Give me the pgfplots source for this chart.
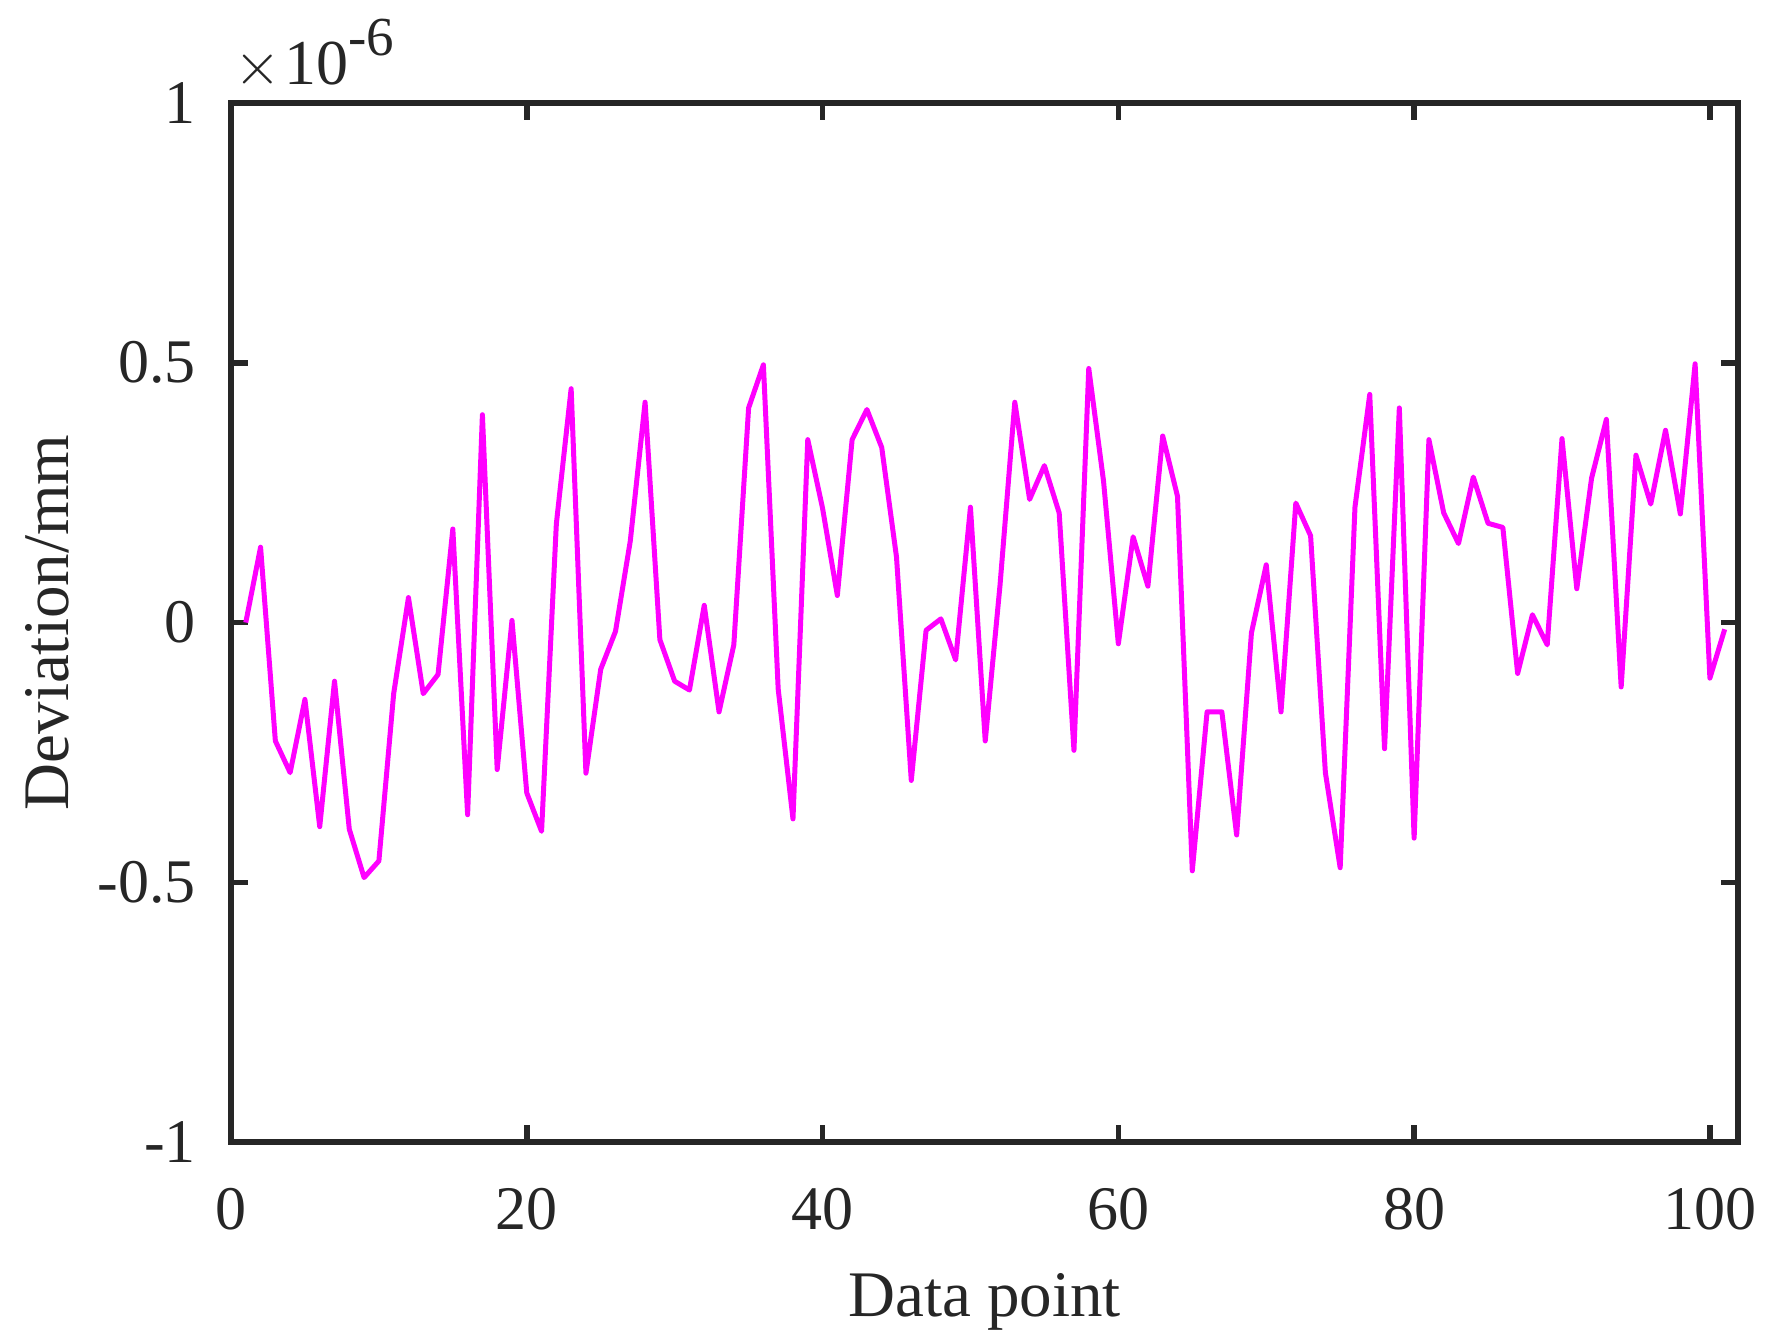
\documentclass[border=0pt]{standalone}
\usepackage{fontspec}
\setmainfont{Liberation Serif}
\usepackage{pgfplots}
\pgfplotsset{compat=1.18}
\definecolor{axgray}{RGB}{38,38,38}
\definecolor{magline}{RGB}{255,0,255}
\begin{document}
\begin{tikzpicture}
\useasboundingbox (-46.2pt,-39.8pt) rectangle (307.2pt,228.4pt);
\begin{axis}[
 at={(0,0)}, anchor=south west,
 scale only axis, width=301.4pt, height=207.8pt,
 xmin=0, xmax=101.9, ymin=-1, ymax=1,
 xtick={0,20,40,60,80,100},
 ytick={-1,-0.5,0,0.5,1},
 yticklabels={-1,-0.5,0,0.5,1},
 tick align=inside, xtick pos=both, ytick pos=both,
 major tick length=3.4pt,
 axis line style={line width=1.1pt, axgray},
 every tick/.style={line width=1.1pt, axgray},
 /pgf/number format/assume math mode=true,
 tick label style={font=\fontsize{12.4}{14}\selectfont, text=axgray, inner sep=0pt},
 xticklabel style={anchor=base, yshift=-17.4pt},
 yticklabel style={anchor=east, xshift=-6.8pt},
 label style={font=\fontsize{13}{15}\selectfont, text=axgray, inner sep=0pt},
 xlabel={Data point}, ylabel={Deviation/mm},
 xlabel style={at={(axis description cs:0.5,-0.16747)}, anchor=base},
 ylabel style={at={(axis description cs:-0.10816,0.5)}, anchor=base},
]
\addplot[magline, line width=1.0pt, line join=round] coordinates {
(1,0) (2,0.145) (3,-0.228) (4,-0.289) (5,-0.148) (6,-0.393) (7,-0.113) (8,-0.398) (9,-0.491) (10,-0.459)
(11,-0.137) (12,0.048) (13,-0.137) (14,-0.1) (15,0.18) (16,-0.37) (17,0.40) (18,-0.283) (19,0.004) (20,-0.328)
(21,-0.402) (22,0.19) (23,0.45) (24,-0.29) (25,-0.09) (26,-0.017) (27,0.157) (28,0.424) (29,-0.033) (30,-0.113)
(31,-0.13) (32,0.033) (33,-0.172) (34,-0.043) (35,0.413) (36,0.496) (37,-0.128) (38,-0.378) (39,0.352) (40,0.22)
(41,0.052) (42,0.352) (43,0.41) (44,0.337) (45,0.126) (46,-0.304) (47,-0.015) (48,0.007) (49,-0.072) (50,0.222)
(51,-0.228) (52,0.072) (53,0.424) (54,0.237) (55,0.302) (56,0.211) (57,-0.246) (58,0.489) (59,0.272) (60,-0.041)
(61,0.165) (62,0.07) (63,0.359) (64,0.243) (65,-0.478) (66,-0.172) (67,-0.172) (68,-0.409) (69,-0.02) (70,0.111)
(71,-0.172) (72,0.23) (73,0.167) (74,-0.289) (75,-0.472) (76,0.222) (77,0.439) (78,-0.243) (79,0.413) (80,-0.415)
(81,0.352) (82,0.211) (83,0.152) (84,0.28) (85,0.191) (86,0.183) (87,-0.098) (88,0.015) (89,-0.043) (90,0.354)
(91,0.065) (92,0.278) (93,0.391) (94,-0.124) (95,0.322) (96,0.228) (97,0.37) (98,0.209) (99,0.498) (100,-0.107)
(101,-0.013)
};
\end{axis}
\node[anchor=base west, inner sep=0pt, text=axgray, font=\fontsize{12.8}{14}\selectfont] at (0.6pt,211.4pt) {$\times$\kern0.5pt 10\raisebox{5.8pt}{\fontsize{11}{12}\selectfont -6}};
\end{tikzpicture}
\end{document}
